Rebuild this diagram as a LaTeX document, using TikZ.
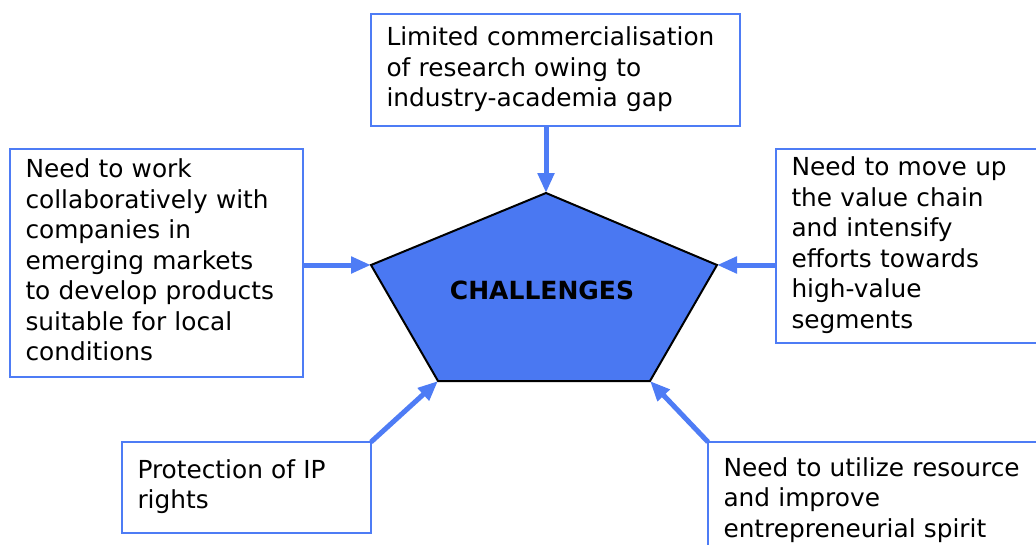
\documentclass[tikz,border=0pt]{standalone}
\usepackage{fontspec}
\setmainfont{DejaVu Sans}
\usetikzlibrary{arrows.meta}
\definecolor{edgeblue}{RGB}{78,124,245}
\definecolor{pentblue}{RGB}{74,120,242}

\begin{document}
\begin{tikzpicture}[x=1pt,y=-1pt,>={Triangle[length=20pt,width=16pt]},
  box/.style={draw=edgeblue,line width=1.8pt,fill=white,anchor=north west,
    outer sep=0pt,align=left,inner xsep=15.5pt,inner ysep=0pt,
    font=\fontsize{24.8}{30.5}\selectfont,
    execute at begin node=\strut,execute at end node=\strut},
  link/.style={->,draw=edgeblue,line width=5pt}]
\useasboundingbox (0,0) rectangle (1036,544);
% ---------- the five boxes ----------
\node[box,text width=338pt,minimum height=112pt] (limited) at (371,14)
  {Limited commercialisation\\of research owing to\\industry-academia gap};
\node[box,text width=262pt,minimum height=228pt] (work) at (10,149)
  {Need to work\\collaboratively with\\companies in\\emerging markets\\to develop products\\suitable for local\\conditions};
\node[box,text width=249pt,minimum height=194pt] (value) at (776,149)
  {Need to move up\\the value chain\\and intensify\\efforts towards\\high-value\\segments};
\node[box,text width=218pt,minimum height=91pt] (ip) at (122,442)
  {Protection of IP\\rights};
\node[box,text width=319pt,minimum height=117pt] (spirit) at (708,442)
  {Need to utilize resource\\and improve\\entrepreneurial spirit};
% ---------- pentagon corners ----------
\coordinate (pTop) at (546,193);
\coordinate (pLeft) at (371,265);
\coordinate (pRight) at (717,265);
\coordinate (pBL) at (438,381);
\coordinate (pBR) at (650,381);
% ---------- arrows into the centre ----------
\draw[link] (limited.south -| pTop) -- (pTop);
\draw[link] (work.east |- pLeft) -- (pLeft);
\draw[link] (value.west |- pRight) -- (pRight);
\draw[link] (ip.north east) -- (pBL);
\draw[link] (spirit.north west) -- (pBR);
% ---------- centre ----------
\draw[fill=pentblue,line width=2pt] (pTop) -- (pRight) -- (pBR) -- (pBL) -- (pLeft) -- cycle;
\node[anchor=base,font=\fontsize{25}{30}\selectfont\bfseries] (chal) at (542,299) {CHALLENGES};
\end{tikzpicture}
\end{document}
